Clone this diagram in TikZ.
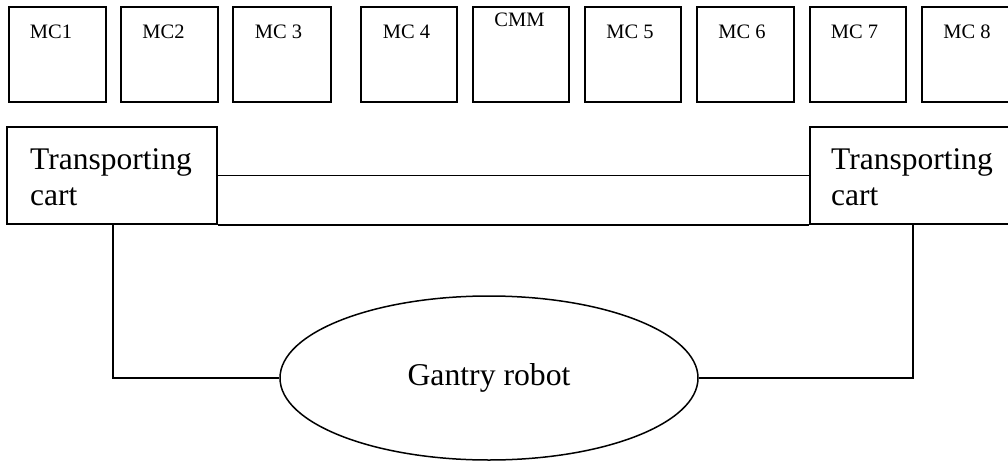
\documentclass[tikz,border=0pt]{standalone}
\usepackage{fontspec}
\setmainfont{Liberation Serif}
\usetikzlibrary{shapes.geometric}
\begin{document}
\begin{tikzpicture}[x=1pt,y=-1pt,
  mcbox/.style={draw,line width=1.5pt,rectangle,inner sep=0pt,minimum height=95pt},
  mclabel/.style={anchor=base,inner sep=0pt,font=\fontsize{20.5}{24}\selectfont},
  cartbox/.style={draw,line width=1.5pt,rectangle,inner sep=0pt,minimum width=210pt,minimum height=97pt},
  carttext/.style={anchor=base west,inner sep=0pt,font=\fontsize{31.5}{36}\selectfont},
  conn/.style={line width=1.5pt},
  robot/.style={draw,line width=1.5pt,ellipse,inner sep=0pt,minimum width=418pt,minimum height=164pt,font=\fontsize{31.7}{36}\selectfont}]
\useasboundingbox (0,0) rectangle (1008,460);
\clip (0,0) rectangle (1008,460);
% machine boxes
\node[mcbox,minimum width=97pt] (m1) at (57.5,54.5) {};
\node[mcbox,minimum width=97pt] (m2) at (169.5,54.5) {};
\node[mcbox,minimum width=98pt] (m3) at (282,54.5) {};
\node[mcbox,minimum width=96pt] (m4) at (409,54.5) {};
\node[mcbox,minimum width=96pt] (cmm) at (521,54.5) {};
\node[mcbox,minimum width=96pt] (m5) at (633,54.5) {};
\node[mcbox,minimum width=97pt] (m6) at (745.5,54.5) {};
\node[mcbox,minimum width=96pt] (m7) at (858,54.5) {};
\node[mcbox,minimum width=97pt] (m8) at (970.5,54.5) {};
\node[mclabel] (t1) at (51,38) {MC1};
\node[mclabel] (t2) at (163.5,38) {MC2};
\node[mclabel] (t3) at (278.5,38) {MC 3};
\node[mclabel] (t4) at (406.5,38) {MC 4};
\node[mclabel] (tc) at (519.5,27) {CMM};
\node[mclabel] (t5) at (630,38) {MC 5};
\node[mclabel] (t6) at (742,38) {MC 6};
\node[mclabel] (t7) at (854.5,38) {MC 7};
\node[mclabel] (t8) at (967,38) {MC 8};
% transporting carts
\node[cartbox] (lc) at (112,175.5) {};
\node[cartbox] (rc) at (915,175.5) {};
\node[carttext] (lca) at (30,169) {Transporting};
\node[carttext] (lcb) at (30,205) {cart};
\node[carttext] (rca) at (831,169) {Transporting};
\node[carttext] (rcb) at (831,205) {cart};
% gantry robot
\node[robot] (gr) at (489,378) {Gantry robot};
% connectors
\draw[conn] (lc.east) -- (rc.west);
\draw[conn] (lc.south east) -- (rc.south west);
\coordinate (lv) at (113,224);
\coordinate (rv) at (913,224);
\draw[conn] (lv) |- (gr.west);
\draw[conn] (rv) |- (gr.east);
\end{tikzpicture}
\end{document}
